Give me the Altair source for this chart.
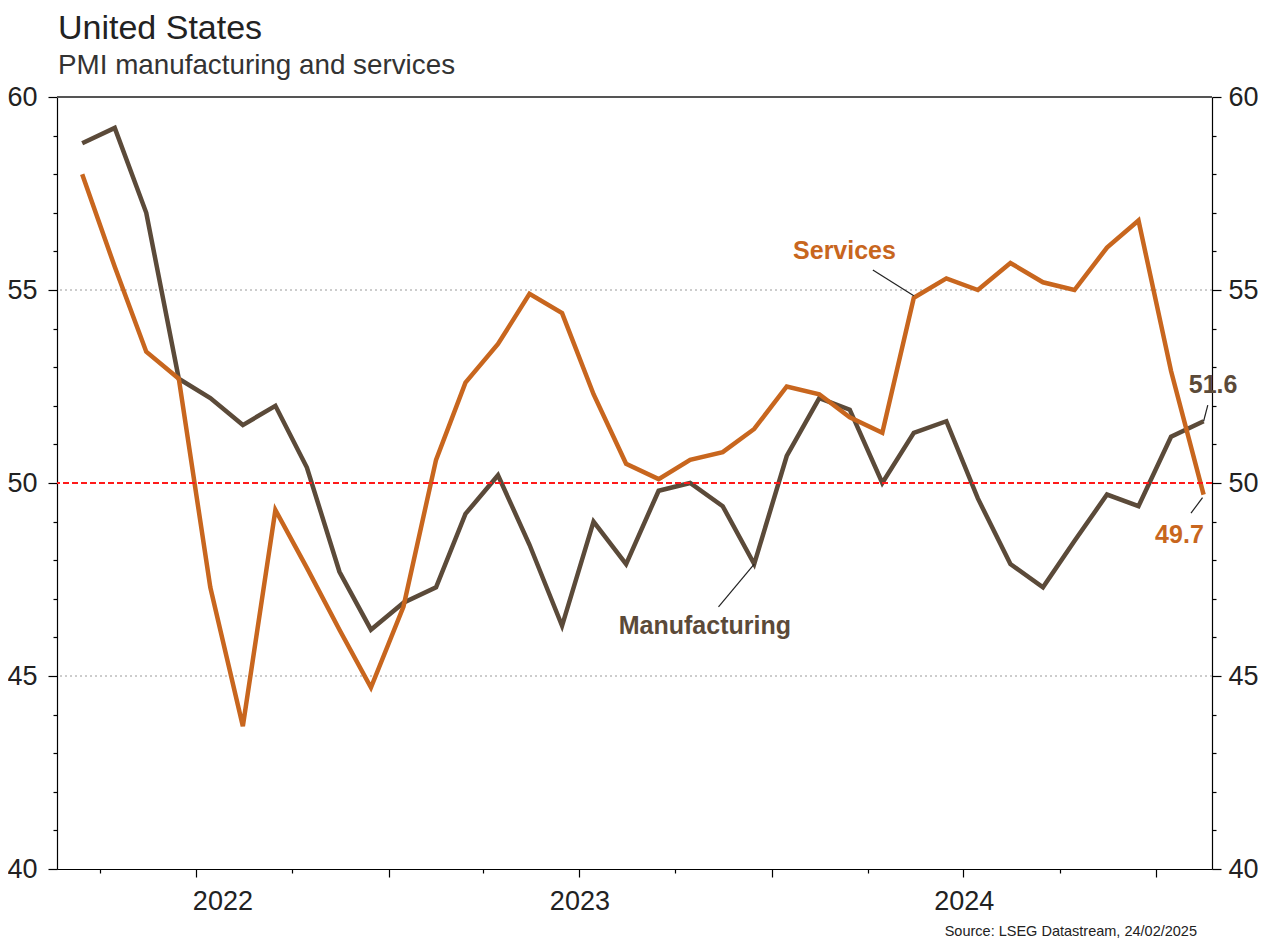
import altair as alt
import pandas as pd

FONT = "Liberation Sans"
BROWN = "#5B4A39"
ORANGE = "#C8661E"

TITLE = "United States"
SUBTITLE = "PMI manufacturing and services"
SOURCE = "Source: LSEG Datastream, 24/02/2025"

# Monthly observations, Mar 2022 .. Feb 2025 (plotted mid-month)
month_starts = pd.date_range("2022-03-01", "2025-02-01", freq="MS")
manufacturing = [58.8, 59.2, 57.0, 52.7, 52.2, 51.5, 52.0, 50.4, 47.7, 46.2,
                 46.9, 47.3, 49.2, 50.2, 48.4, 46.3, 49.0, 47.9, 49.8, 50.0,
                 49.4, 47.9, 50.7, 52.2, 51.9, 50.0, 51.3, 51.6, 49.6, 47.9,
                 47.3, 48.5, 49.7, 49.4, 51.2, 51.6]
services = [58.0, 55.6, 53.4, 52.7, 47.3, 43.7, 49.3, 47.8, 46.2, 44.7,
            46.8, 50.6, 52.6, 53.6, 54.9, 54.4, 52.3, 50.5, 50.1, 50.6,
            50.8, 51.4, 52.5, 52.3, 51.7, 51.3, 54.8, 55.3, 55.0, 55.7,
            55.2, 55.0, 56.1, 56.8, 52.9, 49.7]
series_names = ["Manufacturing", "Services"]

years = ["2022", "2023", "2024"]
year_label_dates = ["2022-07-27", "2023-07-02", "2024-07-02"]

grid_levels = [45, 55]
top_level = [60]
ref_level = [50]

# annotations (labels + leader lines)
ann_text = ["Services", "Manufacturing", "51.6", "49.7"]
ann_series = ["Services", "Manufacturing", "Manufacturing", "Services"]
ann_date = ["2024-03-10", "2023-10-29", "2025-02-24", "2025-01-23"]
ann_value = [55.80, 46.09, 52.33, 48.45]
lead_date = ["2024-04-06", "2023-11-11", "2025-02-15", "2025-02-14"]
lead_value = [55.52, 46.79, 51.60, 49.62]
lead_date2 = ["2024-05-15", "2023-12-15", "2025-02-19", "2025-02-03"]
lead_value2 = [54.85, 47.90, 52.02, 49.22]

dates = list((month_starts + pd.Timedelta(days=14)).strftime("%Y-%m-%d"))
df = pd.DataFrame({
    "date": dates * 2,
    "series": ["Manufacturing"] * len(dates) + ["Services"] * len(dates),
    "value": manufacturing + services,
})
ann_df = pd.DataFrame({"date": ann_date, "value": ann_value,
                       "label": ann_text, "series": ann_series})
lead_df = pd.DataFrame({"date": lead_date, "value": lead_value,
                        "date2": lead_date2, "value2": lead_value2})
year_df = pd.DataFrame({"date": year_label_dates, "year": years})

W, H = 1155, 772

xscale = alt.Scale(type="utc", domain=[
    alt.DateTime(year=2022, month=2, date=19, utc=True),
    alt.DateTime(year=2025, month=2, date=23, utc=True)])
quarter_ticks = [alt.DateTime(year=d.year, month=d.month, date=1, utc=True)
                 for d in pd.date_range("2022-04-01", "2025-01-01", freq="QS-JAN")]
xaxis = alt.Axis(values=quarter_ticks, labels=False, title=None, grid=False,
                 domainColor="black", domainWidth=1.2, tickColor="black",
                 tickWidth=1.2,
                 tickSize={"condition": {"test": "utcmonth(datum.value) % 6 === 0",
                                         "value": 8}, "value": 4})

yscale = alt.Scale(domain=[40, 60], nice=False, zero=False)


def yaxis(orient, pad):
    return alt.Axis(orient=orient, values=list(range(40, 61)), title=None,
                    grid=False, labelExpr="datum.value % 5 === 0 ? datum.label : ''",
                    labelFont=FONT, labelFontSize=27, labelColor="#222",
                    labelPadding=pad, labelOverlap=False, labelFlush=False,
                    domainColor="black", domainWidth=1.2, tickColor="black",
                    tickWidth=1.2,
                    tickSize={"condition": {"test": "datum.value % 5 === 0",
                                            "value": 9}, "value": 4})


color_scale = alt.Scale(domain=series_names, range=[BROWN, ORANGE])

grid = alt.Chart(pd.DataFrame({"level": grid_levels})).mark_rule(
    color="#9a9a9a", strokeDash=[2, 3], strokeWidth=1
).encode(y=alt.Y("level:Q", scale=yscale, axis=yaxis("left", 11)))

top = alt.Chart(pd.DataFrame({"level": top_level})).mark_rule(
    color="#555555", strokeWidth=2
).encode(y=alt.Y("level:Q", scale=yscale, axis=None))

ref = alt.Chart(pd.DataFrame({"level": ref_level})).mark_rule(
    color="#FF1A1A", strokeDash=[6, 3], strokeWidth=2
).encode(y=alt.Y("level:Q", scale=yscale, axis=None))

lines = alt.Chart(df).mark_line(strokeWidth=4.5).encode(
    x=alt.X("date:T", scale=xscale, axis=xaxis),
    y=alt.Y("value:Q", scale=yscale, axis=yaxis("right", 7)),
    color=alt.Color("series:N", scale=color_scale, legend=None),
    detail="series:N",
)

leaders = alt.Chart(lead_df).mark_rule(color="#222", strokeWidth=1.2).encode(
    x=alt.X("date:T", scale=xscale, axis=xaxis),
    x2="date2:T",
    y=alt.Y("value:Q", scale=yscale, axis=None),
    y2="value2:Q",
)

ann = alt.Chart(ann_df).mark_text(
    font=FONT, fontSize=25, fontWeight="bold", align="center", baseline="alphabetic"
).encode(
    x=alt.X("date:T", scale=xscale, axis=xaxis),
    y=alt.Y("value:Q", scale=yscale, axis=None),
    text="label:N",
    color=alt.Color("series:N", scale=color_scale, legend=None),
)

year_labels = alt.Chart(year_df).mark_text(
    font=FONT, fontSize=27, color="#222", align="center", baseline="alphabetic"
).encode(
    x=alt.X("date:T", scale=xscale, axis=xaxis),
    y=alt.value(H + 41),
    text="year:N",
)

title = alt.Chart(pd.DataFrame({"t": [TITLE]})).mark_text(
    font=FONT, fontSize=34, color="#222", align="left", baseline="alphabetic"
).encode(x=alt.value(1), y=alt.value(-58), text="t:N")

subtitle = alt.Chart(pd.DataFrame({"t": [SUBTITLE]})).mark_text(
    font=FONT, fontSize=27.8, color="#333", align="left", baseline="alphabetic"
).encode(x=alt.value(1), y=alt.value(-23), text="t:N")

source = alt.Chart(pd.DataFrame({"t": [SOURCE]})).mark_text(
    font=FONT, fontSize=14.5, color="#222", align="right", baseline="alphabetic"
).encode(x=alt.value(1140), y=alt.value(839), text="t:N")

chart = alt.layer(
    grid, top, lines, ref, leaders, ann, year_labels, title, subtitle, source
).resolve_scale(y="independent").properties(
    width=W, height=H,
    padding={"left": 49, "top": 89, "right": 46, "bottom": 71},
    autosize="none",
).configure_view(stroke=None)

chart.save("out.html", embed_options={"renderer": "svg", "actions": False})
